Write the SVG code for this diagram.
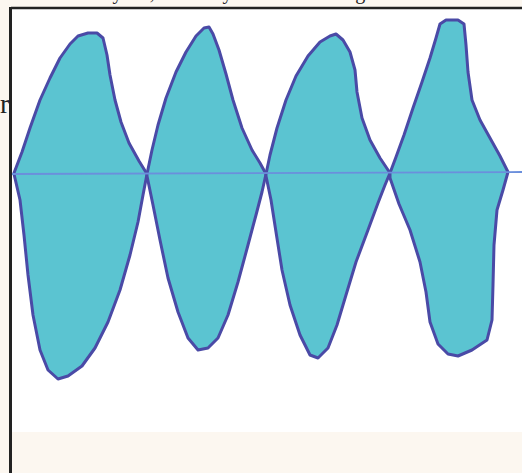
<svg xmlns="http://www.w3.org/2000/svg" width="522" height="473" viewBox="0 0 522 473">
<style>
.lobe{fill:#5bc4d1;stroke:#4a4aa6;stroke-width:3;stroke-linejoin:round;stroke-linecap:round}
.txt{font-family:"Liberation Serif","DejaVu Serif",serif;fill:#222}
</style>
<rect x="0" y="0" width="522" height="473" fill="#fcf7f0"/>
<text class="txt" x="6" y="-1" font-size="20">ed are actually set, raised by an increased sig</text>
<text class="txt" x="0" y="113" font-size="28">r</text>
<rect x="11" y="8" width="511" height="424" fill="#ffffff"/>
<line x1="11" y1="8" x2="522" y2="8" stroke="#222" stroke-width="2.5"/>
<line x1="10.5" y1="7" x2="10.5" y2="473" stroke="#222" stroke-width="3"/>
<g id="wave">
<g id="lobe1">
<path class="lobe" d="M14,173 L22,152 L30,128 L40,100 L50,78 L60,58 L70,44 L78,36 L88,33 L97,33 L103,38 L107,55 L110,75 L115,100 L121,122 L129,143 L139,161 L147,174 L143,195 L138,222 L130,255 L120,290 L108,322 L95,348 L82,366 L68,376 L58,379 L48,370 L40,350 L33,315 L28,275 L24,235 L20,200 L14,174 Z"/>
</g>
<g id="lobe2">
<path class="lobe" d="M147,174 L152,150 L158,125 L166,98 L176,72 L186,52 L196,36 L204,28 L209,27 L213,34 L219,50 L226,74 L233,100 L242,128 L252,150 L260,163 L266,174 L262,192 L256,215 L248,245 L238,282 L228,315 L218,338 L208,348 L198,350 L188,338 L178,312 L168,278 L160,240 L153,205 L147,176 Z"/>
</g>
<g id="lobe3">
<path class="lobe" d="M266,174 L270,155 L277,128 L286,100 L296,76 L308,56 L320,42 L330,36 L336,34 L343,40 L350,52 L355,70 L357,92 L362,118 L370,140 L380,158 L390,173 L385,185 L378,203 L368,230 L356,262 L346,295 L337,325 L328,348 L318,358 L310,355 L300,335 L290,305 L282,270 L276,232 L271,200 L266,176 Z"/>
</g>
<g id="lobe4">
<path class="lobe" d="M390,173 L396,157 L404,135 L413,108 L422,82 L430,58 L436,38 L440,24 L446,20 L458,20 L464,24 L466,45 L468,72 L472,100 L480,120 L490,138 L500,156 L508,172 L503,190 L497,210 L494,245 L493,285 L492,320 L487,340 L472,350 L458,356 L448,354 L438,344 L430,322 L426,292 L420,262 L410,230 L399,204 L390,178 Z"/>
</g>
</g>
<g id="connectors">
<line x1="12" y1="174" x2="522" y2="172" stroke="#6b8fdc" stroke-width="1.8"/>
</g>
</svg>
